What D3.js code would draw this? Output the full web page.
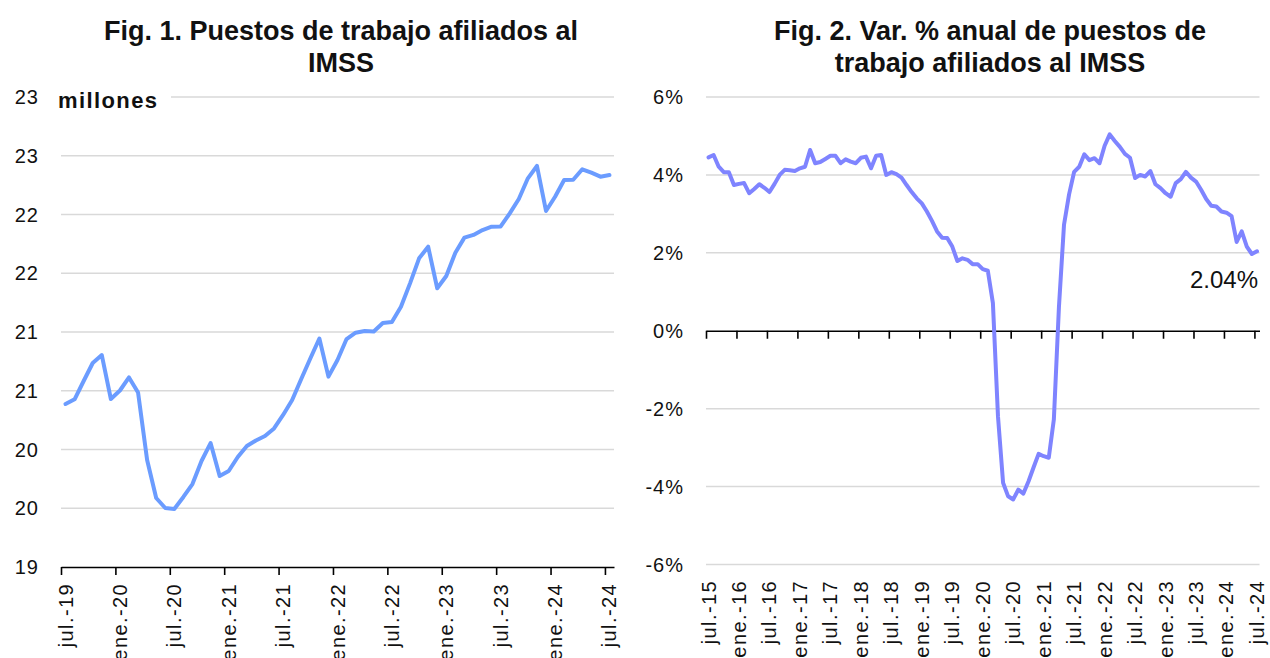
<!DOCTYPE html>
<html>
<head>
<meta charset="utf-8">
<script src="https://cdn.jsdelivr.net/npm/d3@7"></script>
<style>
  body { margin: 0; background: #fff; }
  svg text { font-family: "Liberation Sans", Arial, sans-serif; fill: #111; }
</style>
</head>
<body>
<svg id="chart" width="1270" height="658"></svg>
<script>
// Fig. 1 - puestos afiliados al IMSS (millones), mensual jul.-19 .. jul.-24
const puestos = [20.387, 20.427, 20.583, 20.736, 20.804, 20.430, 20.502, 20.613, 20.485, 19.911,
  19.587, 19.502, 19.494, 19.596, 19.706, 19.902, 20.055, 19.774, 19.817, 19.936,
  20.030, 20.077, 20.115, 20.179, 20.294, 20.421, 20.600, 20.774, 20.945, 20.620,
  20.762, 20.940, 20.994, 21.009, 21.005, 21.077, 21.085, 21.215, 21.414, 21.627,
  21.726, 21.372, 21.477, 21.675, 21.803, 21.826, 21.868, 21.896, 21.898, 22.010,
  22.132, 22.308, 22.413, 22.030, 22.151, 22.294, 22.296, 22.385, 22.356, 22.322,
  22.336];
const puestosTickLabels = ["jul.-19", "ene.-20", "jul.-20", "ene.-21", "jul.-21", "ene.-22",
  "jul.-22", "ene.-23", "jul.-23", "ene.-24", "jul.-24"];
const puestosYTicks = [19, 19.5, 20, 20.5, 21, 21.5, 22, 22.5, 23];

// Fig. 2 - var. % anual, mensual jul.-15 .. jul.-24
const varAnual = [4.45, 4.51, 4.21, 4.07, 4.07, 3.74, 3.77, 3.79, 3.53, 3.64,
  3.76, 3.67, 3.56, 3.77, 4.00, 4.13, 4.12, 4.10, 4.17, 4.21,
  4.64, 4.30, 4.33, 4.41, 4.49, 4.49, 4.30, 4.40, 4.34, 4.30,
  4.44, 4.47, 4.17, 4.49, 4.51, 4.00, 4.07, 4.02, 3.93, 3.74,
  3.56, 3.40, 3.27, 3.06, 2.82, 2.55, 2.39, 2.38, 2.16, 1.79,
  1.86, 1.82, 1.71, 1.71, 1.58, 1.54, 0.71, -2.20, -3.90, -4.25,
  -4.33, -4.08, -4.18, -3.87, -3.51, -3.16, -3.22, -3.26, -2.28, 0.60,
  2.72, 3.50, 4.08, 4.21, 4.53, 4.38, 4.43, 4.30, 4.75, 5.04,
  4.87, 4.72, 4.54, 4.44, 3.92, 4.00, 3.96, 4.10, 3.76, 3.66,
  3.53, 3.44, 3.79, 3.89, 4.08, 3.93, 3.83, 3.62, 3.38, 3.21,
  3.19, 3.06, 3.03, 2.94, 2.28, 2.55, 2.16, 1.97, 2.04];
const varTickLabels = ["jul.-15", "ene.-16", "jul.-16", "ene.-17", "jul.-17", "ene.-18",
  "jul.-18", "ene.-19", "jul.-19", "ene.-20", "jul.-20", "ene.-21", "jul.-21", "ene.-22",
  "jul.-22", "ene.-23", "jul.-23", "ene.-24", "jul.-24"];
const varYTicks = [-6, -4, -2, 0, 2, 4, 6];
const lastValueLabel = "2.04%";

const svg = d3.select("#chart");

// ---------- Fig. 1 ----------
const x1 = d3.scaleLinear().domain([0, puestos.length]).range([61, 614]);
const y1 = d3.scaleLinear().domain([19, 23]).range([567, 97]);

const title1 = svg.append("text")
  .attr("text-anchor", "middle")
  .style("font-size", "27px").style("font-weight", "bold");
title1.append("tspan").attr("x", 341).attr("y", 40).text("Fig. 1. Puestos de trabajo afiliados al");
title1.append("tspan").attr("x", 341).attr("y", 72).text("IMSS");

// gridlines
svg.append("g").selectAll("line")
  .data(puestosYTicks.filter(d => d !== 19))
  .enter().append("line")
  .attr("x1", x1.range()[0]).attr("x2", x1.range()[1])
  .attr("y1", d => y1(d)).attr("y2", d => y1(d))
  .attr("stroke", "#d9d9d9").attr("stroke-width", 1.5);

// y labels
svg.append("g").selectAll("text")
  .data(puestosYTicks)
  .enter().append("text")
  .attr("x", 39).attr("y", d => y1(d)).attr("dy", "0.35em")
  .attr("text-anchor", "end").style("font-size", "20px").style("letter-spacing", "1px")
  .text(d => d3.format(".0f")(d));

// units label over the top gridline
svg.append("rect").attr("x", 54).attr("y", 86).attr("width", 117).attr("height", 26).attr("fill", "#fff");
svg.append("text").attr("x", 58).attr("y", 108)
  .style("font-size", "22px").style("font-weight", "bold").style("letter-spacing", "1.4px")
  .text("millones");

// x axis
const ax1 = svg.append("g")
  .attr("transform", "translate(0," + y1(19) + ")")
  .call(d3.axisBottom(x1)
    .tickValues(d3.range(0, puestos.length, 6))
    .tickSize(8).tickSizeOuter(0).tickFormat(""));
ax1.selectAll("path, line").attr("stroke", "#000").attr("stroke-width", 1.6);

svg.append("g").selectAll("text")
  .data(puestosTickLabels)
  .enter().append("text")
  .attr("transform", (d, i) => "translate(" + x1(i * 6 + 0.5) + ",583) rotate(-90)")
  .attr("dy", "0.35em").attr("text-anchor", "end")
  .style("font-size", "20px").style("letter-spacing", "1.4px")
  .text(d => d);

svg.append("path")
  .datum(puestos)
  .attr("fill", "none")
  .attr("stroke", "#6b9cff")
  .attr("stroke-width", 4)
  .attr("stroke-linejoin", "round")
  .attr("stroke-linecap", "round")
  .attr("d", d3.line().x((d, i) => x1(i + 0.5)).y(d => y1(d)));

// ---------- Fig. 2 ----------
const x2 = d3.scaleLinear().domain([0, varAnual.length]).range([706, 1259.5]);
const y2 = d3.scaleLinear().domain([-6, 6]).range([564.5, 97]);

const title2 = svg.append("text")
  .attr("text-anchor", "middle")
  .style("font-size", "27px").style("font-weight", "bold");
title2.append("tspan").attr("x", 990).attr("y", 40).text("Fig. 2. Var. % anual de puestos de");
title2.append("tspan").attr("x", 990).attr("y", 72).text("trabajo afiliados al IMSS");

svg.append("g").selectAll("line")
  .data(varYTicks.filter(d => d !== 0))
  .enter().append("line")
  .attr("x1", x2.range()[0]).attr("x2", x2.range()[1])
  .attr("y1", d => y2(d)).attr("y2", d => y2(d))
  .attr("stroke", "#d9d9d9").attr("stroke-width", 1.5);

svg.append("g").selectAll("text")
  .data(varYTicks)
  .enter().append("text")
  .attr("x", 684).attr("y", d => y2(d)).attr("dy", "0.35em")
  .attr("text-anchor", "end").style("font-size", "20px").style("letter-spacing", "1px")
  .text(d => d + "%");

const ax2 = svg.append("g")
  .attr("transform", "translate(0," + y2(0) + ")")
  .call(d3.axisBottom(x2)
    .tickValues(d3.range(0, varAnual.length, 6))
    .tickSize(8).tickSizeOuter(0).tickFormat(""));
ax2.selectAll("path, line").attr("stroke", "#000").attr("stroke-width", 1.6);

svg.append("g").selectAll("text")
  .data(varTickLabels)
  .enter().append("text")
  .attr("transform", (d, i) => "translate(" + x2(i * 6 + 0.5) + ",580) rotate(-90)")
  .attr("dy", "0.35em").attr("text-anchor", "end")
  .style("font-size", "20px").style("letter-spacing", "1.4px")
  .text(d => d);

svg.append("path")
  .datum(varAnual)
  .attr("fill", "none")
  .attr("stroke", "#7f84ff")
  .attr("stroke-width", 4)
  .attr("stroke-linejoin", "round")
  .attr("stroke-linecap", "round")
  .attr("d", d3.line().x((d, i) => x2(i + 0.5)).y(d => y2(d)));

svg.append("text")
  .attr("x", 1258).attr("y", 288)
  .attr("text-anchor", "end").style("font-size", "24px")
  .text(lastValueLabel);
</script>
</body>
</html>
